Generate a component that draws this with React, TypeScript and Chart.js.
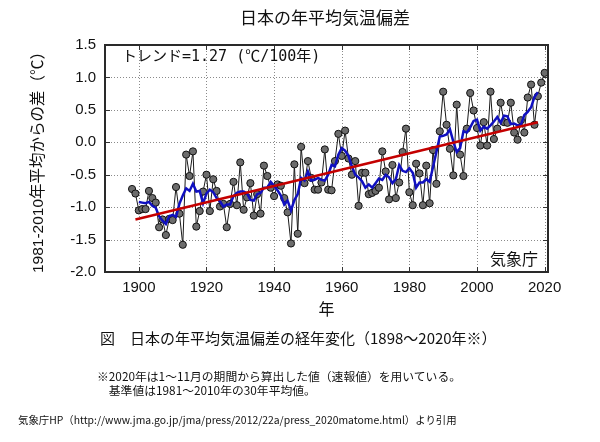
import React, { useEffect, useRef } from "react";
import { Chart, registerables } from "chart.js";

Chart.register(...registerables);

const annualYears = [
  1898, 1899, 1900, 1901, 1902, 1903, 1904, 1905, 1906, 1907, 1908, 1909,
  1910, 1911, 1912, 1913, 1914, 1915, 1916, 1917, 1918, 1919, 1920, 1921,
  1922, 1923, 1924, 1925, 1926, 1927, 1928, 1929, 1930, 1931, 1932, 1933,
  1934, 1935, 1936, 1937, 1938, 1939, 1940, 1941, 1942, 1943, 1944, 1945,
  1946, 1947, 1948, 1949, 1950, 1951, 1952, 1953, 1954, 1955, 1956, 1957,
  1958, 1959, 1960, 1961, 1962, 1963, 1964, 1965, 1966, 1967, 1968, 1969,
  1970, 1971, 1972, 1973, 1974, 1975, 1976, 1977, 1978, 1979, 1980, 1981,
  1982, 1983, 1984, 1985, 1986, 1987, 1988, 1989, 1990, 1991, 1992, 1993,
  1994, 1995, 1996, 1997, 1998, 1999, 2000, 2001, 2002, 2003, 2004, 2005,
  2006, 2007, 2008, 2009, 2010, 2011, 2012, 2013, 2014, 2015, 2016, 2017,
  2018, 2019, 2020,
];

const annualValues = [
  -0.72, -0.79, -1.05, -1.03, -1.03, -0.75, -0.86, -0.93, -1.31, -1.19, -1.43, -1.18,
  -1.2, -0.69, -1.1, -1.58, -0.19, -0.52, -0.14, -1.3, -1.06, -0.76, -0.5, -1.06,
  -0.57, -0.75, -0.99, -0.95, -1.31, -0.95, -0.61, -0.97, -0.31, -1.04, -0.85, -0.63,
  -1.13, -0.8, -1.1, -0.36, -0.52, -0.7, -0.83, -0.65, -0.67, -0.86, -1.08, -1.56,
  -0.34, -1.41, -0.07, -0.63, -0.29, -0.55, -0.73, -0.73, -0.62, -0.11, -0.73, -0.74,
  -0.29, 0.13, -0.21, 0.18, -0.25, -0.5, -0.29, -0.98, -0.47, -0.47, -0.8, -0.78,
  -0.75, -0.7, -0.14, -0.45, -0.88, -0.35, -0.86, -0.62, -0.15, 0.21, -0.77, -0.97,
  -0.33, -0.48, -0.97, -0.36, -0.94, -0.12, -0.64, 0.17, 0.78, 0.27, -0.1, -0.51,
  0.58, -0.19, -0.52, 0.21, 0.76, 0.49, 0.22, -0.05, 0.31, -0.05, 0.78, 0.05,
  0.21, 0.61, 0.31, 0.3, 0.61, 0.15, 0.04, 0.34, 0.15, 0.69, 0.89, 0.27,
  0.71, 0.92, 1.07,
];

const meanYears = [
  1900, 1901, 1902, 1903, 1904, 1905, 1906, 1907, 1908, 1909, 1910, 1911,
  1912, 1913, 1914, 1915, 1916, 1917, 1918, 1919, 1920, 1921, 1922, 1923,
  1924, 1925, 1926, 1927, 1928, 1929, 1930, 1931, 1932, 1933, 1934, 1935,
  1936, 1937, 1938, 1939, 1940, 1941, 1942, 1943, 1944, 1945, 1946, 1947,
  1948, 1949, 1950, 1951, 1952, 1953, 1954, 1955, 1956, 1957, 1958, 1959,
  1960, 1961, 1962, 1963, 1964, 1965, 1966, 1967, 1968, 1969, 1970, 1971,
  1972, 1973, 1974, 1975, 1976, 1977, 1978, 1979, 1980, 1981, 1982, 1983,
  1984, 1985, 1986, 1987, 1988, 1989, 1990, 1991, 1992, 1993, 1994, 1995,
  1996, 1997, 1998, 1999, 2000, 2001, 2002, 2003, 2004, 2005, 2006, 2007,
  2008, 2009, 2010, 2011, 2012, 2013, 2014, 2015, 2016, 2017, 2018,
];

const meanValues = [
  -0.92, -0.93, -0.94, -0.92, -0.98, -1.01, -1.14, -1.21, -1.26, -1.14, -1.12, -1.15,
  -0.95, -0.82, -0.71, -0.75, -0.64, -0.76, -0.75, -0.94, -0.79, -0.73, -0.77, -0.86,
  -0.91, -0.99, -0.96, -0.96, -0.83, -0.78, -0.76, -0.76, -0.79, -0.89, -0.9, -0.8,
  -0.78, -0.7, -0.7, -0.61, -0.67, -0.74, -0.82, -0.96, -0.9, -1.05, -0.89, -0.8,
  -0.55, -0.59, -0.45, -0.59, -0.58, -0.55, -0.58, -0.59, -0.5, -0.35, -0.37, -0.19,
  -0.09, -0.13, -0.21, -0.37, -0.5, -0.54, -0.6, -0.7, -0.65, -0.7, -0.63, -0.56,
  -0.58, -0.5, -0.54, -0.63, -0.57, -0.35, -0.44, -0.46, -0.4, -0.47, -0.7, -0.62,
  -0.62, -0.57, -0.61, -0.38, -0.15, 0.09, 0.1, 0.12, 0.2, 0.01, -0.15, -0.09,
  0.17, 0.15, 0.23, 0.33, 0.35, 0.18, 0.24, 0.21, 0.26, 0.32, 0.39, 0.3,
  0.41, 0.4, 0.28, 0.29, 0.26, 0.27, 0.42, 0.47, 0.54, 0.7, 0.77,
];

const trendYears = [1899, 2018];
const trendValues = [-1.19, 0.31];

const xTickValues = [1900, 1920, 1940, 1960, 1980, 2000, 2020];
const yTickValues = [-2.0, -1.5, -1.0, -0.5, 0.0, 0.5, 1.0, 1.5];
const xMin = 1890;
const xMax = 2021;
const yMin = -2.0;
const yMax = 1.5;

const titleText = "日本の年平均気温偏差";
const yTitleText = "1981-2010年平均からの差（℃）";
const xTitleText = "年";
const trendLabel = "トレンド=1.27 (℃/100年)";
const sourceMark = "気象庁";
const captionText = "図　日本の年平均気温偏差の経年変化（1898～2020年※）";
const noteLine1 = "※2020年は1～11月の期間から算出した値（速報値）を用いている。";
const noteLine2 = "　基準値は1981～2010年の30年平均値。";
const sourceText =
  "気象庁HP（http://www.jma.go.jp/jma/press/2012/22a/press_2020matome.html）より引用";

const NUM_FONT = "'Liberation Sans', Arial, 'Noto Sans CJK JP', sans-serif";
const JP_FONT = "'Noto Sans CJK JP', 'Noto Sans', sans-serif";

const framePlugin = {
  id: "frameAndText",
  beforeDatasetsDraw(chart: any) {
    const { ctx, chartArea } = chart;
    const xs = chart.scales.x;
    const ys = chart.scales.y;
    ctx.save();
    ctx.strokeStyle = "#8a8a8a";
    ctx.lineWidth = 1;
    ctx.setLineDash([1, 2]);
    xTickValues.forEach((v) => {
      const px = Math.round(xs.getPixelForValue(v)) + 0.5;
      ctx.beginPath();
      ctx.moveTo(px, chartArea.top);
      ctx.lineTo(px, chartArea.bottom);
      ctx.stroke();
    });
    yTickValues.forEach((v) => {
      const py = Math.round(ys.getPixelForValue(v)) + 0.5;
      ctx.beginPath();
      ctx.moveTo(chartArea.left, py);
      ctx.lineTo(chartArea.right, py);
      ctx.stroke();
    });
    ctx.restore();
  },
  afterDraw(chart: any) {
    const { ctx, chartArea } = chart;
    const xs = chart.scales.x;
    const ys = chart.scales.y;
    ctx.save();
    ctx.setLineDash([]);
    ctx.strokeStyle = "#333";
    ctx.lineWidth = 1;
    const tl = 5;
    xTickValues.forEach((v) => {
      const px = Math.round(xs.getPixelForValue(v)) + 0.5;
      ctx.beginPath();
      ctx.moveTo(px, chartArea.bottom);
      ctx.lineTo(px, chartArea.bottom - tl);
      ctx.moveTo(px, chartArea.top);
      ctx.lineTo(px, chartArea.top + tl);
      ctx.stroke();
    });
    yTickValues.forEach((v) => {
      const py = Math.round(ys.getPixelForValue(v)) + 0.5;
      ctx.beginPath();
      ctx.moveTo(chartArea.left, py);
      ctx.lineTo(chartArea.left + tl, py);
      ctx.moveTo(chartArea.right, py);
      ctx.lineTo(chartArea.right - tl, py);
      ctx.stroke();
    });
    ctx.lineWidth = 2;
    ctx.strokeStyle = "#2a2a2a";
    ctx.strokeRect(
      chartArea.left,
      chartArea.top,
      chartArea.right - chartArea.left,
      chartArea.bottom - chartArea.top
    );

    ctx.fillStyle = "#111";
    ctx.font = `17px ${JP_FONT}`;
    ctx.textAlign = "center";
    ctx.textBaseline = "middle";
    ctx.fillText(titleText, 325, 18);

    ctx.save();
    ctx.translate(39, (chartArea.top + chartArea.bottom) / 2);
    ctx.rotate(-Math.PI / 2);
    ctx.font = `15.5px ${NUM_FONT}`;
    ctx.textAlign = "center";
    ctx.textBaseline = "middle";
    ctx.fillText(yTitleText, 0, 0);
    ctx.restore();

    ctx.font = `16px ${JP_FONT}`;
    ctx.textAlign = "center";
    ctx.textBaseline = "middle";
    ctx.fillText(xTitleText, (chartArea.left + chartArea.right) / 2, 309);

    ctx.font = `15px 'DejaVu Sans Mono', ${JP_FONT}`;
    ctx.textAlign = "left";
    ctx.textBaseline = "middle";
    ctx.fillText(trendLabel, chartArea.left + 17, chartArea.top + 12);

    ctx.font = `16px ${JP_FONT}`;
    ctx.textAlign = "right";
    ctx.fillText(sourceMark, chartArea.right - 10, chartArea.bottom - 13);
    ctx.restore();
  },
};

export default function App() {
  const canvasRef = useRef<HTMLCanvasElement | null>(null);

  useEffect(() => {
    const canvas = canvasRef.current;
    if (!canvas) return;
    const annualPoints = annualYears.map((y, i) => ({ x: y, y: annualValues[i] }));
    const meanPoints = meanYears.map((y, i) => ({ x: y, y: meanValues[i] }));
    const trendPoints = trendYears.map((y, i) => ({ x: y, y: trendValues[i] }));

    const chart = new Chart(canvas, {
      type: "line",
      data: {
        datasets: [
          {
            label: "trend",
            data: trendPoints,
            borderColor: "#c40000",
            borderWidth: 2.5,
            pointRadius: 0,
            tension: 0,
            order: 1,
          },
          {
            label: "5-year mean",
            data: meanPoints,
            borderColor: "#1010c0",
            borderWidth: 2.5,
            pointRadius: 0,
            tension: 0,
            order: 2,
          },
          {
            label: "annual",
            data: annualPoints,
            borderColor: "#1a1a1a",
            borderWidth: 1,
            pointRadius: 3.6,
            pointBackgroundColor: "#6c6c6c",
            pointBorderColor: "#111",
            pointBorderWidth: 1,
            tension: 0,
            order: 3,
          },
        ],
      },
      options: {
        responsive: false,
        animation: false,
        events: [],
        layout: { padding: { left: 0, top: 45, right: 52, bottom: 130 } },
        plugins: {
          legend: { display: false },
          title: { display: false },
          tooltip: { enabled: false },
        },
        scales: {
          x: {
            type: "linear",
            min: xMin,
            max: xMax,
            afterBuildTicks: (s: any) => {
              s.ticks = xTickValues.map((v) => ({ value: v }));
            },
            afterFit: (s: any) => {
              s.height = 40;
            },
            grid: { display: false, drawTicks: false },
            border: { display: false },
            ticks: {
              autoSkip: false,
              maxRotation: 0,
              padding: 7,
              color: "#111",
              font: { family: NUM_FONT, size: 15 },
              callback: (v: any) => String(v),
            },
          },
          y: {
            type: "linear",
            min: yMin,
            max: yMax,
            afterBuildTicks: (s: any) => {
              s.ticks = yTickValues.map((v) => ({ value: v }));
            },
            afterFit: (s: any) => {
              s.width = 105;
            },
            grid: { display: false, drawTicks: false },
            border: { display: false },
            ticks: {
              autoSkip: false,
              padding: 9,
              color: "#111",
              font: { family: NUM_FONT, size: 15 },
              callback: (v: any) => Number(v).toFixed(1),
            },
          },
        },
      },
      plugins: [framePlugin],
    });
    return () => chart.destroy();
  }, []);

  const textStyle: React.CSSProperties = {
    position: "absolute",
    whiteSpace: "nowrap",
    fontFamily: JP_FONT,
    color: "#111",
    lineHeight: 1,
    margin: 0,
  };

  return (
    <div
      style={{
        position: "absolute",
        left: 0,
        top: 0,
        width: 600,
        height: 442,
        background: "#fff",
        overflow: "hidden",
      }}
    >
      <canvas ref={canvasRef} width={600} height={442} style={{ display: "block" }} />
      <div style={{ ...textStyle, left: 100, top: 330, fontSize: 15 }}>{captionText}</div>
      <div style={{ ...textStyle, left: 97, top: 370, fontSize: 11.8 }}>{noteLine1}</div>
      <div style={{ ...textStyle, left: 97, top: 384, fontSize: 11.8 }}>{noteLine2}</div>
      <div style={{ ...textStyle, left: 18, top: 415, fontSize: 10.4 }}>{sourceText}</div>
    </div>
  );
}
